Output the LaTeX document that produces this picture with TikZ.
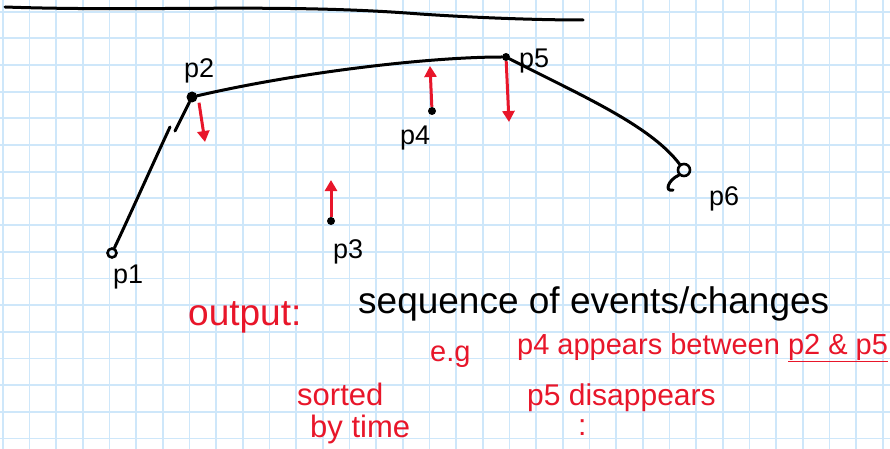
\documentclass[tikz,border=0pt]{standalone}
\usepackage{xcolor}
\usepackage{fontspec}
\setmainfont{Liberation Sans}
\usepackage{tikz}
\usetikzlibrary{arrows.meta, positioning}
\definecolor{gridblue}{RGB}{206,231,250}
\definecolor{ink}{RGB}{232,22,42}

\begin{document}
\begin{tikzpicture}[
		x=1pt, y=-1pt,
		curve/.style={draw, line width=3pt, line cap=round},
		dot/.style={circle, fill, inner sep=0pt, minimum size=#1},
		ring/.style={circle, draw, line width=2.6pt, inner sep=0pt, minimum size=#1},
		lbl/.style={anchor=base west, inner sep=0pt, font=\fontsize{27}{27}\selectfont},
		move/.style={draw=ink, line width=3pt, -{Triangle[width=12pt, length=11pt]}},
		note/.style={anchor=base west, inner sep=0pt, text=ink, font=\fontsize{#1}{#1}\selectfont},
		>=Stealth
		]
		% paper
		\fill[white] (0,0) rectangle (890,449);
		\useasboundingbox (0,0) rectangle (890,449);
		\foreach \i in {0,...,33}
			\draw[gridblue, line width=1.8pt] (2.8+26.67*\i,0) -- (2.8+26.67*\i,449);
		\foreach \j in {0,...,16}
			\draw[gridblue, line width=1.8pt] (0,11.7+26.67*\j) -- (890,11.7+26.67*\j);
		
		% sweep line on top
		\coordinate (sweepL) at (5,7);
		\coordinate (sweepR) at (583,20);
		\draw[curve] (sweepL) .. controls (150,12) and (280,3) .. (420,14) .. controls (480,18) and (540,20) .. (sweepR);
		
		% points
		\node[ring=9pt] (p1) at (112,253) {};
		\node[dot=11pt] (p2) at (192,97) {};
		\node[dot=8pt] (p3) at (331,221) {};
		\node[dot=8pt] (p4) at (432,111) {};
		\node[dot=8pt] (p5) at (506,57) {};
		\node[ring=12pt] (p6) at (684,170) {};
		
		% point labels
		\node[lbl] (l1) at (113,283) {p1};
		\node[lbl] (l2) at (184,78) {p2};
		\node[lbl] (l3) at (333,258) {p3};
		\node[lbl] (l4) at (400,145) {p4};
		\node[lbl] (l5) at (519,68) {p5};
		\node[lbl] (l6) at (709,205) {p6};
		
		% black segments between points
		\coordinate (brk) at (170,127);
		\coordinate (brk2) at (175,131);
		\draw[curve] (p1) .. controls (130,215) and (150,170) .. (brk);
		\draw[curve] (brk2) -- (p2);
		\draw[curve] (p2) .. controls (300,72) and (430,57) .. (p5);
		\draw[curve] (p5) .. controls (580,95) and (650,125) .. (p6);
		\draw[curve] (p6.south west) .. controls (668,180) and (664,192) .. (673,190);
		
		% red moves
		\coordinate (m2) at (205,142);
		\coordinate (m3) at (331,180);
		\coordinate (m4) at (430,66);
		\coordinate (m5) at (509,122);
		\draw[move] ([xshift=7pt]p2.south) -- (m2);
		\draw[move] (p3) -- (m3);
		\draw[move] (p4) -- (m4);
		\draw[move] (p5) -- (m5);
		
		% output text
		\node[note=37] (out) at (188,325) {output:};
		\node[note=37, text=black] (seq) at (358,313) {sequence of events/changes};
		\node[note=29] (eg) at (430,361) {e.g};
		\node[note=29] (ex1) at (517,354) {p4 appears between \underline{p2 \& p5}};
		\node[note=30] (ex2) at (527,405) {p5 disappears};
		\node[note=30] (more) at (578,435) {:};
		\node[note=31] (sorted) at (297,405) {sorted};
		\node[note=31] (bytime) at (310,437) {by time};
	\end{tikzpicture}
\end{document}
